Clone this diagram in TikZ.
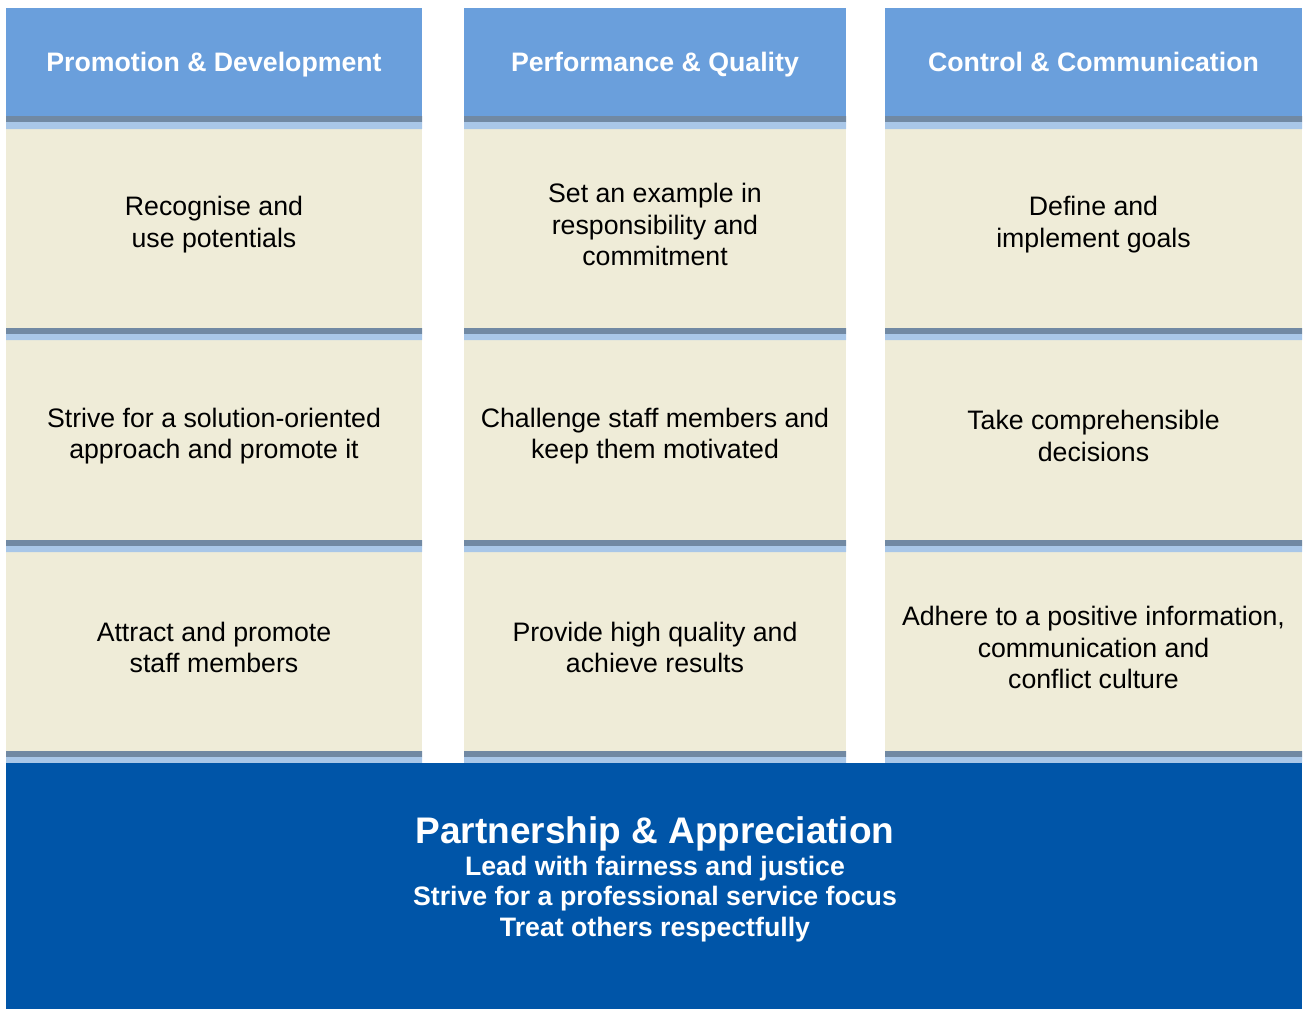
\documentclass[tikz,border=0pt]{standalone}
\usepackage{fontspec}
\setmainfont{Liberation Sans}
\usepackage{tikz}

\definecolor{headblue}{HTML}{6A9FDC}
\definecolor{cellbeige}{HTML}{EFECD8}
\definecolor{banddark}{HTML}{7189A3}
\definecolor{bandlight}{HTML}{A9C7E8}
\definecolor{baseblue}{HTML}{0055A8}

\tikzset{
  head/.style={fill=headblue, text=white, minimum height=108pt, inner sep=0pt,
    text height=19pt, text depth=0pt, font=\fontsize{26.7}{30}\selectfont\bfseries},
  cell/.style={fill=cellbeige, minimum height=208pt, inner sep=0pt, align=center,
    font=\fontsize{26.7}{31.3}\selectfont},
  darkband/.style={fill=banddark},
  lightband/.style={fill=bandlight},
}

\begin{document}
\begin{tikzpicture}[x=1pt,y=-1pt]
\useasboundingbox (0,0) rectangle (1303,1009);
% headers
\node[head, minimum width=416pt] (hdA) at (214,62) {Promotion \& Development};
\node[head, minimum width=382pt] (hdB) at (655,62) {Performance \& Quality};
\node[head, minimum width=417pt] (hdC) at (1093.5,62) {Control \& Communication};
% first row (tops are hidden under the bands)
\node[cell, minimum width=416pt, minimum height=207pt] (cA1) at (214,224.5) {Recognise and\\use potentials};
\node[cell, minimum width=382pt, minimum height=207pt] (cB1) at (655,224.5) {Set an example in\\responsibility and\\commitment};
\node[cell, minimum width=417pt, minimum height=207pt] (cC1) at (1093.5,224.5) {Define and\\implement goals};
% second row
\node[cell, minimum width=416pt] (cA2) at (214,436) {Strive for a solution-oriented\\approach and promote it};
\node[cell, minimum width=382pt] (cB2) at (655,436) {Challenge staff members and\\keep them motivated};
\node[cell, minimum width=417pt] (cC2) at (1093.5,436) {Take comprehensible\\decisions};
% third row
\node[cell, minimum width=416pt, minimum height=207pt] (cA3) at (214,647.5) {Attract and promote\\staff members};
\node[cell, minimum width=382pt, minimum height=207pt] (cB3) at (655,647.5) {Provide high quality and\\achieve results};
\node[cell, minimum width=417pt, minimum height=207pt] (cC3) at (1093.5,647.5) {Adhere to a positive information,\\communication and\\conflict culture};
% bands
\fill[darkband] (6,116) rectangle (422,122) (464,116) rectangle (846,122) (885,116) rectangle (1302,122);
\fill[lightband] (6,122) rectangle (422,129) (464,122) rectangle (846,129) (885,122) rectangle (1302,129);
\fill[darkband] (6,328) rectangle (422,334) (464,328) rectangle (846,334) (885,328) rectangle (1302,334);
\fill[lightband] (6,334) rectangle (422,340) (464,334) rectangle (846,340) (885,334) rectangle (1302,340);
\fill[darkband] (6,540) rectangle (422,546) (464,540) rectangle (846,546) (885,540) rectangle (1302,546);
\fill[lightband] (6,546) rectangle (422,552) (464,546) rectangle (846,552) (885,546) rectangle (1302,552);
\fill[darkband] (6,751) rectangle (422,757) (464,751) rectangle (846,757) (885,751) rectangle (1302,757);
\fill[lightband] (6,757) rectangle (422,763) (464,757) rectangle (846,763) (885,757) rectangle (1302,763);
% base
\node[fill=baseblue, minimum width=1296pt, minimum height=246pt, inner sep=0pt] (base) at (654,886) {};
\node[text=white, align=center, font=\fontsize{26.7}{30.5}\selectfont\bfseries] (values) at (655,879.5)
  {{\fontsize{37}{37}\selectfont Partnership \& Appreciation}\\[1pt]Lead with fairness and justice\\Strive for a professional service focus\\Treat others respectfully};
\end{tikzpicture}
\end{document}
